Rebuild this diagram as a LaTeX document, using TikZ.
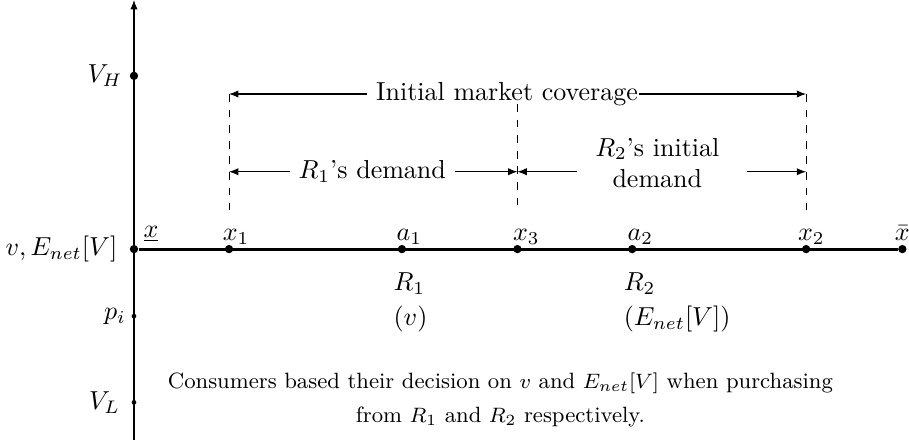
\documentclass[tikz,border=0pt]{standalone}
\usepackage{amsmath,amssymb}
\usepackage{tikz}
\usetikzlibrary{positioning,arrows.meta}

\begin{document}
\begin{tikzpicture}[
    >={Latex[length=3.6pt,width=2.8pt]},
    bigdot/.style={
        circle,
        fill,
        inner sep=0pt,
        minimum size=3.2pt
    },
    smalldot/.style={
        circle,
        fill,
        inner sep=0pt,
        minimum size=1.8pt
    },
    ptlabel/.style={anchor=base, inner sep=0pt},
    axlabel/.style={inner sep=1pt},
    guide/.style={dashed},
    arrow/.style={->}
]
\useasboundingbox (-1.81,-2.635) rectangle (10.47,3.365);

% vertical axis
\coordinate (ybot) at (0,-2.58);
\coordinate (ytop) at (0,3.365);
\draw[arrow] (ybot) -- (ytop);

\node[bigdot] (vh) at (0,2.34) {};
\node[smalldot] (pi) at (0,-0.905) {};
\node[smalldot] (vl) at (0,-2.07) {};
\node[axlabel, left=0.05cm of vh] (lvh) {$V_H$};
\node[axlabel, left=0.03cm of pi] (lpi) {$p_i$};
\node[axlabel, left=0.11cm of vl] (lvl) {$V_L$};

% consumer line
\node[bigdot] (O) at (0,0) {};
\node[bigdot] (x1) at (1.284,0) {};
\node[bigdot] (a1) at (3.62,0) {};
\node[bigdot] (x3) at (5.18,0) {};
\node[bigdot] (a2) at (6.73,0) {};
\node[bigdot] (x2) at (9.08,0) {};
\node[bigdot] (xbar) at (10.38,0) {};
\draw[very thick] (O) -- (xbar);
\node[axlabel, left=0.12cm of O] (lO) {$v, E_{net}[V]$};

\node[ptlabel] (lxlow) at (0.23,0.16) {$\underline{x}$};
\node[ptlabel] (lx1) at (1.38,0.12) {$x_1$};
\node[ptlabel] (la1) at (3.72,0.12) {$a_1$};
\node[ptlabel] (lx3) at (5.30,0.12) {$x_3$};
\node[ptlabel] (la2) at (6.84,0.12) {$a_2$};
\node[ptlabel] (lx2) at (9.15,0.12) {$x_2$};
\node[ptlabel] (lxbar) at (10.38,0.12) {$\bar{x}$};

% retailers
\node[anchor=base west, inner sep=0pt] (r1) at (3.50,-0.554) {$R_1$};
\node[anchor=base west, inner sep=0pt] (v1) at (3.50,-1.03) {$(v)$};
\node[anchor=base west, inner sep=0pt] (r2) at (6.61,-0.554) {$R_2$};
\node[anchor=base west, inner sep=0pt] (v2) at (6.61,-1.03) {$(E_{net}[V])$};

% market coverage
\coordinate (t1) at (1.284,2.095);
\coordinate (b1) at (1.284,0.53);
\coordinate (t3) at (5.18,1.96);
\coordinate (b3) at (5.18,0.53);
\coordinate (t2) at (9.08,2.095);
\coordinate (b2) at (9.08,0.53);
\draw[guide] (t1) -- (b1);
\draw[guide] (t3) -- (b3);
\draw[guide] (t2) -- (b2);

\node (cov) at (5.04,2.095) {Initial market coverage};
\draw[arrow] (cov.west) -- (t1);
\draw[arrow] ([xshift=-3.3pt]cov.east) -- (t2);

\coordinate (m1) at (1.284,1.045);
\coordinate (m3) at (5.18,1.045);
\coordinate (m2) at (9.08,1.045);
\node (dem1) at (3.22,1.045) {$R_1$'s demand};
\draw[arrow] (dem1.west) -- (m1);
\draw[arrow] (dem1.east) -- (m3);

\node[align=center] (dem2) at (7.07,1.166) {$R_2$'s initial\\demand};
\draw[arrow] ([xshift=-3.5pt]dem2.west |- m3) -- (m3);
\draw[arrow] ([xshift=7pt]dem2.east |- m2) -- (m2);

% note
\node[font=\fontsize{8.5}{13}\selectfont, align=center] (note) at (4.95,-2.04)
{Consumers based their decision on $v$ and $E_{net}[V]$ when purchasing\\
from $R_1$ and $R_2$ respectively.};
\end{tikzpicture}
\end{document}
